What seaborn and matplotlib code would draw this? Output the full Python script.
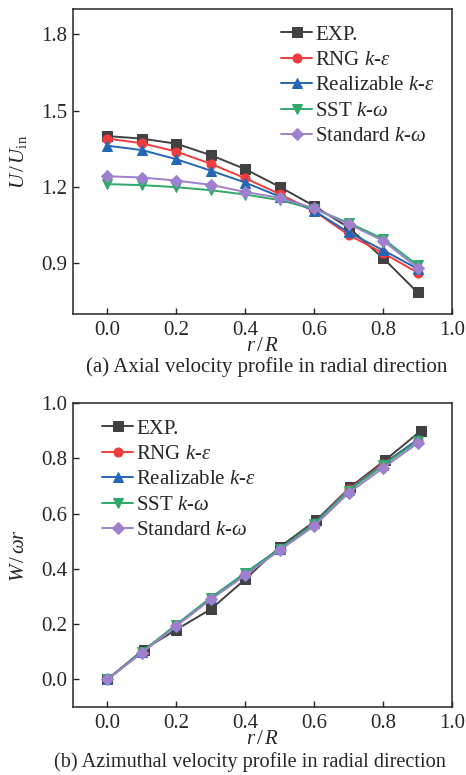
"""Axial and azimuthal velocity profiles in radial direction"""
import matplotlib
matplotlib.use("Agg")
import matplotlib.pyplot as plt
import seaborn as sns

# radial positions
r = [0.0, 0.1, 0.2, 0.3, 0.4, 0.5, 0.6, 0.7, 0.8, 0.9]
r_exp_b = [0.0, 0.105, 0.2, 0.3, 0.4, 0.5, 0.605, 0.705, 0.805, 0.91]

models = ["EXP.", "RNG $k$-$\\varepsilon$", "Realizable $k$-$\\varepsilon$",
          "SST $k$-$\\omega$", "Standard $k$-$\\omega$"]
colors = ["#414141", "#f03c3c", "#2367b5", "#2ea96a", "#9e80cf"]
markers = ["s", "o", "^", "v", "D"]

# (a) axial velocity U/U_in
u_exp = [1.40, 1.39, 1.37, 1.325, 1.27, 1.20, 1.125, 1.04, 0.92, 0.785]
u_rng = [1.39, 1.372, 1.339, 1.291, 1.234, 1.172, 1.105, 1.011, 0.94, 0.863]
u_real = [1.362, 1.345, 1.309, 1.264, 1.217, 1.162, 1.106, 1.021, 0.951, 0.878]
u_sst = [1.211, 1.207, 1.199, 1.187, 1.170, 1.148, 1.113, 1.059, 0.996, 0.892]
u_std = [1.242, 1.237, 1.225, 1.208, 1.18, 1.157, 1.116, 1.054, 0.988, 0.882]

# (b) azimuthal velocity W/(omega r)
w_exp = [0.0, 0.108, 0.180, 0.254, 0.362, 0.479, 0.575, 0.696, 0.792, 0.900]
w_rng = [0.0, 0.098, 0.195, 0.292, 0.382, 0.472, 0.565, 0.688, 0.780, 0.866]
w_real = [0.0, 0.099, 0.197, 0.294, 0.385, 0.473, 0.564, 0.685, 0.777, 0.868]
w_sst = [0.0, 0.100, 0.198, 0.296, 0.384, 0.472, 0.562, 0.683, 0.775, 0.862]
w_std = [0.0, 0.096, 0.193, 0.289, 0.377, 0.467, 0.555, 0.674, 0.765, 0.854]

sns.set_style("ticks")
plt.rcParams["font.family"] = ["Liberation Serif", "DejaVu Serif"]
plt.rcParams["mathtext.fontset"] = "custom"
plt.rcParams["mathtext.rm"] = "Liberation Serif"
plt.rcParams["mathtext.it"] = "Liberation Serif:italic"
FS = 15

fig = plt.figure(figsize=(4.66, 7.75), dpi=100)
ax1 = fig.add_axes([73 / 466, 1 - 314 / 775, 379 / 466, 305 / 775])
ax2 = fig.add_axes([73 / 466, 1 - 707 / 775, 379 / 466, 304 / 775])

panels = [
    (ax1, [r, r, r, r, r], [u_exp, u_rng, u_real, u_sst, u_std]),
    (ax2, [r_exp_b, r, r, r, r], [w_exp, w_rng, w_real, w_sst, w_std]),
]
for ax, xs, ys in panels:
    for name, x, y, c, m in zip(models, xs, ys, colors, markers):
        sns.lineplot(x=x, y=y, ax=ax, color=c, marker=m, markersize=6.5 if m != "D" else 6,
                     markeredgecolor=c, linewidth=1.4, label=name, estimator=None, sort=False)
    ax.set_xlim(-0.1, 1.0)
    ax.set_xticks([0.0, 0.2, 0.4, 0.6, 0.8, 1.0])
    ax.tick_params(direction="in", length=4, width=1, labelsize=FS, pad=4)
    ax.tick_params(axis="x", pad=5)
    for s in ax.spines.values():
        s.set_linewidth(1.1)
    ax.set_xlabel("")

ax1.set_ylim(0.7, 1.9)
ax1.set_yticks([0.9, 1.2, 1.5, 1.8])
ax2.set_ylim(-0.1, 1.0)
ax2.set_yticks([0.0, 0.2, 0.4, 0.6, 0.8, 1.0])

ax1.set_ylabel("$U\\,/\\,U_{\\rm in}$", fontsize=FS)
ax2.set_ylabel("$W\\,/\\,\\omega r$", fontsize=FS)
ax1.yaxis.set_label_coords(-0.115, 0.5)
ax2.yaxis.set_label_coords(-0.115, 0.5)

leg_kw = dict(frameon=False, fontsize=FS, handlelength=1.5, handletextpad=0.15,
              labelspacing=0.28, borderaxespad=0.0, borderpad=0.0)
ax1.legend(loc="upper left", bbox_to_anchor=((281 - 73) / 379, (314 - 25) / 305), **leg_kw)
ax2.legend(loc="upper left", bbox_to_anchor=((102 - 73) / 379, (707 - 419) / 304), **leg_kw)

cx = (73 + 452) / 2 / 466
fig.text(cx, 1 - 346 / 775, "$r\\,/\\,R$", ha="center", va="center", fontsize=FS)
fig.text(cx + 0.008, 1 - 367 / 775, "(a) Axial velocity profile in radial direction",
         ha="center", va="center", fontsize=FS)
fig.text(cx, 1 - 740 / 775, "$r\\,/\\,R$", ha="center", va="center", fontsize=FS)
fig.text(54 / 466, 1 - 762 / 775, "(b) Azimuthal velocity profile in radial direction",
         ha="left", va="center", fontsize=14.6)

fig.savefig("out.png", dpi=100)
